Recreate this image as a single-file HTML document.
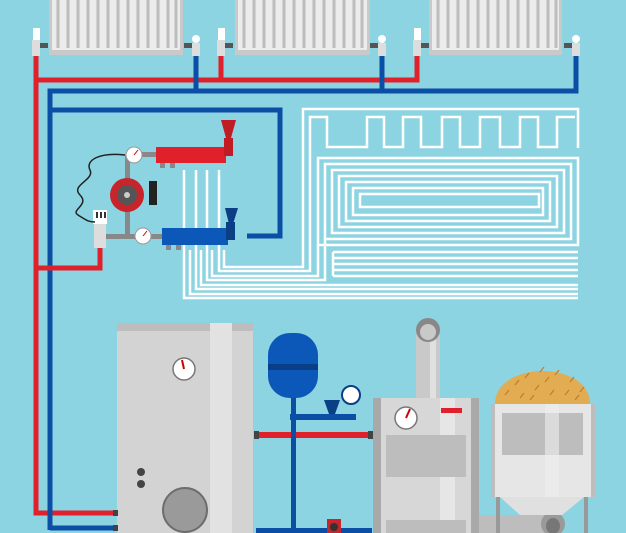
<!DOCTYPE html>
<html><head><style>html,body{margin:0;padding:0;background:#8dd4e2}svg{display:block}</style></head>
<body>
<svg width="626" height="533" viewBox="0 0 626 533" xmlns="http://www.w3.org/2000/svg">
<rect width="626" height="533" fill="#8dd4e2"/>
<!-- radiators -->
<g>
<rect x="49" y="0" width="134" height="55" fill="#c9c9c9"/>
<rect x="235" y="0" width="135" height="55" fill="#c9c9c9"/>
<rect x="429" y="0" width="133" height="55" fill="#c9c9c9"/>
</g>
<g fill="#ececec">
<rect x="52" y="0" width="128" height="50"/><rect x="238" y="0" width="129" height="50"/><rect x="432" y="0" width="127" height="50"/>
</g>
<g stroke="#bdbdbd" stroke-width="3">
<path d="M58 0V48M68 0V48M78 0V48M88 0V48M98 0V48M108 0V48M118 0V48M128 0V48M138 0V48M148 0V48M158 0V48M168 0V48M176 0V48"/>
<path d="M244 0V48M254 0V48M264 0V48M274 0V48M284 0V48M294 0V48M304 0V48M314 0V48M324 0V48M334 0V48M344 0V48M354 0V48M362 0V48"/>
<path d="M438 0V48M448 0V48M458 0V48M468 0V48M478 0V48M488 0V48M498 0V48M508 0V48M518 0V48M528 0V48M538 0V48M548 0V48M556 0V48"/>
</g>
<!-- pipes -->
<g fill="none" stroke-width="5">
<path d="M36 56V513H115" stroke="#e0212b"/>
<path d="M36 80H417V56" stroke="#e0212b"/>
<path d="M221 80V56" stroke="#e0212b"/>
<path d="M50 530V91H576V56" stroke="#0b4ea5"/>
<path d="M196 91V56M382 91V56" stroke="#0b4ea5"/>
<path d="M50 110H280V236H247" stroke="#0b4ea5"/>
<path d="M36 268H100V248" stroke="#e0212b"/>
<path d="M50 528H115" stroke="#0b4ea5"/>
</g>
<!-- valves on radiators -->
<g>
<rect x="32" y="40" width="8" height="16" fill="#ddd"/><rect x="33" y="28" width="7" height="12" fill="#fff"/><rect x="40" y="43" width="8" height="5" fill="#555"/>
<rect x="217" y="40" width="8" height="16" fill="#ddd"/><rect x="218" y="28" width="7" height="12" fill="#fff"/><rect x="225" y="43" width="8" height="5" fill="#555"/>
<rect x="413" y="40" width="8" height="16" fill="#ddd"/><rect x="414" y="28" width="7" height="12" fill="#fff"/><rect x="421" y="43" width="8" height="5" fill="#555"/>
<rect x="192" y="43" width="8" height="13" fill="#ddd"/><circle cx="196" cy="39" r="4" fill="#fff"/><rect x="184" y="43" width="8" height="5" fill="#555"/>
<rect x="378" y="43" width="8" height="13" fill="#ddd"/><circle cx="382" cy="39" r="4" fill="#fff"/><rect x="370" y="43" width="8" height="5" fill="#555"/>
<rect x="572" y="43" width="8" height="13" fill="#ddd"/><circle cx="576" cy="39" r="4" fill="#fff"/><rect x="564" y="43" width="8" height="5" fill="#555"/>
</g>
<!-- underfloor -->
<g fill="none" stroke="#fff" stroke-width="2.5">
<path d="M224 250V267H303V109H578V148"/>
<path d="M219 170V271H310V117H327V147H367V117H384V147H403V117H421V147H442V117H460V147H480V117H500V147H520V117H538V147H557V117H575"/>
<path d="M212 250V276H318V245"/>
<path d="M207 170V280H325V239"/>
<rect x="318" y="158" width="260" height="87"/>
<rect x="325" y="164" width="246" height="75"/>
<rect x="332" y="170" width="232" height="63"/>
<rect x="339" y="176" width="218" height="51"/>
<rect x="346" y="182" width="204" height="39"/>
<rect x="353" y="188" width="190" height="27"/>
<path d="M360 194H539V207H360Z"/>
<path d="M333 252H578M333 258H578M333 264H578M333 270H578M333 276H578M333 252V276"/>
<path d="M201 250V285H578M196 170V289H578M190 250V294H578M184 170V298H578"/>
</g>
<!-- manifold group -->
<rect x="100" y="234" width="62" height="5" fill="#888"/>
<rect x="125" y="155" width="5" height="84" fill="#888"/>
<rect x="130" y="152" width="28" height="5" fill="#888"/>
<rect x="156" y="147" width="70" height="16" fill="#e0212b"/>
<rect x="224" y="138" width="9" height="18" fill="#c01c24"/>
<path d="M221 120H236L231 138H226Z" fill="#c01c24"/>
<rect x="162" y="228" width="66" height="17" fill="#0b58b8"/>
<rect x="226" y="222" width="9" height="18" fill="#0a3f85"/>
<path d="M225 208H238L233 224H229Z" fill="#0a3f85"/>
<g fill="#888"><rect x="160" y="163" width="5" height="5"/><rect x="170" y="163" width="5" height="5"/><rect x="166" y="245" width="5" height="5"/><rect x="176" y="245" width="5" height="5"/></g>
<circle cx="134" cy="155" r="8" fill="#fff" stroke="#999"/><path d="M134 155L138 150" stroke="#c00"/>
<circle cx="143" cy="236" r="8" fill="#fff" stroke="#999"/><path d="M143 236L147 231" stroke="#c00"/>
<circle cx="127" cy="195" r="17" fill="#c8242b"/><circle cx="127" cy="195" r="10" fill="#555"/><circle cx="127" cy="195" r="3" fill="#ccc"/>
<rect x="149" y="181" width="8" height="24" fill="#222"/>
<rect x="94" y="224" width="12" height="24" fill="#ddd"/><rect x="93" y="210" width="14" height="14" fill="#fff"/>
<path d="M96 212h2v6h-2zM100 212h2v6h-2zM104 212h2v6h-2z" fill="#333"/>
<path d="M125 155C100 152 85 160 90 170S70 185 80 195S70 210 78 215S88 222 95 222" fill="none" stroke="#222" stroke-width="1.5"/>
<!-- tank -->
<rect x="117" y="323" width="136" height="210" fill="#d3d3d4"/>
<rect x="117" y="323" width="136" height="8" fill="#bdbdbd"/>
<rect x="210" y="323" width="22" height="210" fill="#e2e2e3"/>
<circle cx="184" cy="369" r="11" fill="#fff" stroke="#777" stroke-width="1.5"/><path d="M184 369L182 360" stroke="#c00" stroke-width="2"/>
<circle cx="141" cy="472" r="4" fill="#444"/><circle cx="141" cy="484" r="4" fill="#444"/>
<circle cx="185" cy="510" r="22" fill="#9a9a9a" stroke="#6d6d6d" stroke-width="2"/>
<rect x="113" y="510" width="5" height="6" fill="#444"/><rect x="113" y="525" width="5" height="6" fill="#444"/>
<!-- expansion and pipes -->
<rect x="256" y="432" width="116" height="6" fill="#e0212b"/>
<rect x="254" y="431" width="5" height="8" fill="#444"/><rect x="368" y="431" width="5" height="8" fill="#444"/>
<rect x="291" y="398" width="5" height="135" fill="#0b4ea5"/>
<rect x="256" y="528" width="116" height="5" fill="#0b4ea5"/>
<rect x="290" y="414" width="66" height="6" fill="#0b4ea5"/>
<rect x="268" y="333" width="50" height="65" rx="22" fill="#0b58b8"/>
<rect x="268" y="364" width="50" height="6" fill="#0a3f85"/>
<path d="M324 400H340L335 414H329Z" fill="#0a3f85"/>
<circle cx="351" cy="395" r="9" fill="#fff" stroke="#0a3f85" stroke-width="2"/>
<rect x="327" y="519" width="14" height="14" fill="#c8242b"/><circle cx="334" cy="527" r="4" fill="#333"/>
<!-- boiler -->
<rect x="416" y="328" width="24" height="72" fill="#c9c9c9"/>
<rect x="430" y="328" width="6" height="72" fill="#e0e0e0"/>
<circle cx="428" cy="330" r="12" fill="#888"/><circle cx="428" cy="332" r="8" fill="#c9c9c9"/>
<rect x="373" y="398" width="106" height="135" fill="#d7d7d8"/>
<rect x="373" y="398" width="8" height="135" fill="#a9a9aa"/><rect x="471" y="398" width="8" height="135" fill="#a9a9aa"/>
<rect x="440" y="398" width="15" height="135" fill="#e6e6e7"/>
<rect x="386" y="435" width="80" height="42" fill="#bdbdbe"/>
<rect x="386" y="520" width="80" height="13" fill="#bdbdbe"/>
<rect x="441" y="408" width="21" height="5" fill="#e0212b"/>
<circle cx="406" cy="418" r="11" fill="#fff" stroke="#777" stroke-width="1.5"/><path d="M406 418L410 409" stroke="#c00" stroke-width="2"/>
<!-- hopper -->
<rect x="479" y="515" width="75" height="18" fill="#bdbdbd"/>
<ellipse cx="553" cy="524" rx="12" ry="12" fill="#9a9a9a"/><ellipse cx="553" cy="526" rx="7" ry="8" fill="#777"/>
<rect x="496" y="497" width="4" height="36" fill="#999"/><rect x="584" y="497" width="4" height="36" fill="#999"/>
<path d="M500 497H584L562 515H520Z" fill="#e0e0e0"/>
<path d="M495 404C495 360 590 360 590 404Z" fill="#e2ac52"/>
<g stroke="#c67a2a" stroke-width="1.2">
<path d="M505 395l4-5M515 385l4-5M525 378l4-5M540 372l4-5M555 375l4-5M570 382l4-5M580 392l4-5M520 398l4-5M535 390l4-5M550 395l4-5M565 395l4-5M545 382l4-5M530 400l4-5M575 400l4-5"/>
</g>
<rect x="491" y="404" width="104" height="93" fill="#e6e6e7"/>
<rect x="491" y="404" width="4" height="93" fill="#bdbdbd"/><rect x="591" y="404" width="4" height="93" fill="#bdbdbd"/>
<rect x="502" y="413" width="81" height="42" fill="#bdbdbe"/>
<rect x="545" y="404" width="14" height="93" fill="#efeff0" opacity="0.6"/>
</svg>
</body></html>
